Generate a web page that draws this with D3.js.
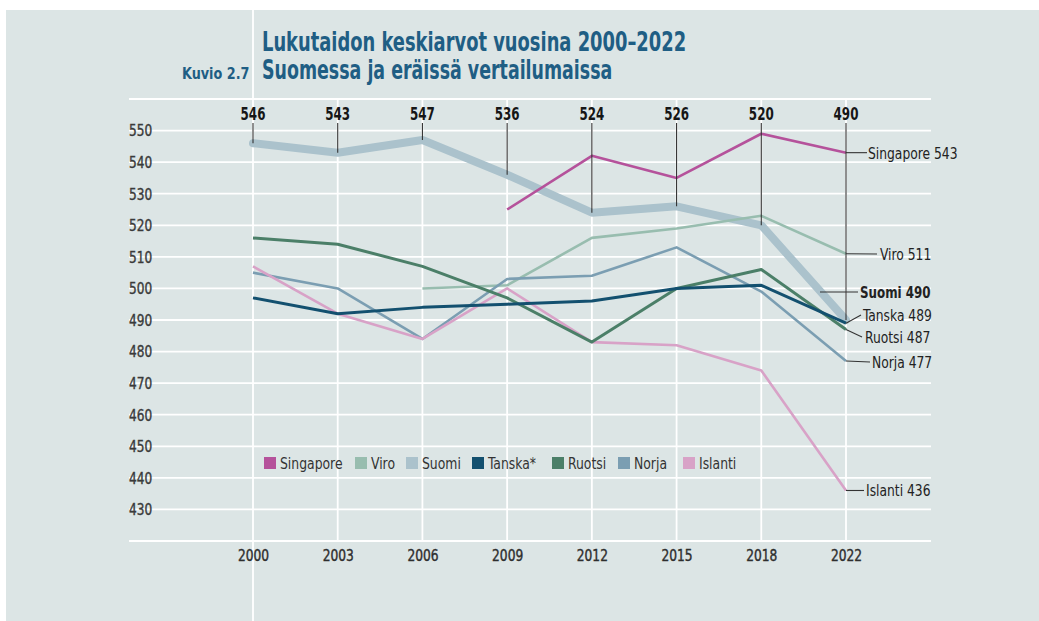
<!DOCTYPE html>
<html>
<head>
<meta charset="utf-8">
<script src="https://cdn.jsdelivr.net/npm/d3@7"></script>
<style>
  html, body { margin: 0; padding: 0; background: #ffffff; }
  svg { display: block; }
  text { font-family: "Liberation Sans Narrow", "DejaVu Sans Condensed", "Roboto Condensed", "Noto Sans", sans-serif; }
</style>
</head>
<body>
<svg id="chart" width="1039" height="621"></svg>
<script>
// ---- data ----
const years = [2000, 2003, 2006, 2009, 2012, 2015, 2018, 2022];
const yTicks = [430, 440, 450, 460, 470, 480, 490, 500, 510, 520, 530, 540, 550];
const seriesNames = ["Singapore", "Viro", "Suomi", "Tanska*", "Ruotsi", "Norja", "Islanti"];
const singapore = [null, null, null, 525, 542, 535, 549, 543];
const viro      = [null, null, 500, 501, 516, 519, 523, 511];
const suomi     = [546, 543, 547, 536, 524, 526, 520, 490];
const tanska    = [497, 492, 494, 495, 496, 500, 501, 489];
const ruotsi    = [516, 514, 507, 497, 483, 500, 506, 487];
const norja     = [505, 500, 484, 503, 504, 513, 499, 477];
const islanti   = [507, 492, 484, 500, 483, 482, 474, 436];
const endLabels = ["Singapore", "Viro", "Suomi", "Tanska", "Ruotsi", "Norja", "Islanti"];

// ---- styles ----
const colors = ["#b5529b", "#98bdaf", "#abc2cc", "#13506f", "#4b7f68", "#7b9eb2", "#d8a2c7"];
const widths = [2.6, 2.6, 8, 3, 3, 2.6, 2.6];
const allValues = [singapore, viro, suomi, tanska, ruotsi, norja, islanti];

// condense text horizontally around its anchor x
function squeeze(sel, s) {
  sel.each(function () {
    const t = d3.select(this);
    const x0 = +t.attr("x") || 0;
    t.attr("transform", `translate(${x0},0) scale(${s},1) translate(${-x0},0)`);
  });
}

const svg = d3.select("#chart");
const W = 1039, H = 621;

// background panel
svg.append("rect").attr("x", 6).attr("y", 10).attr("width", W - 6).attr("height", H - 10).attr("fill", "#dce5e5");

const x = d3.scalePoint().domain(years).range([253, 846]);
const y = d3.scaleLinear().domain([420, 560]).range([541, 99]);

// grid
const grid = svg.append("g");
grid.selectAll("line.h").data(d3.range(420, 561, 10)).join("line")
  .attr("class", "h")
  .attr("x1", 129).attr("x2", 931)
  .attr("y1", d => y(d)).attr("y2", d => y(d))
  .attr("stroke", "#ffffff").attr("stroke-width", 1.8);
grid.selectAll("line.v").data(years).join("line")
  .attr("class", "v")
  .attr("x1", d => x(d)).attr("x2", d => x(d))
  .attr("y1", d => d === 2000 ? 10 : y(560)).attr("y2", d => d === 2000 ? H : y(420))
  .attr("stroke", "#ffffff").attr("stroke-width", 1.8);

// y axis labels
const yAxis = d3.axisLeft(y).tickValues(yTicks).tickSize(0).tickPadding(0);
const gy = svg.append("g").attr("transform", "translate(129,0)").call(yAxis);
gy.attr("font-family", null);
gy.select(".domain").remove();
gy.selectAll("text").attr("text-anchor", "start").attr("font-size", 15).attr("fill", "#3a3a3a")
  .attr("stroke", "#3a3a3a").attr("stroke-width", 0.35).attr("dy", "0.36em").attr("x", 0);
squeeze(gy.selectAll("text"), 0.9);

// x axis labels
const xAxis = d3.axisBottom(x).tickSize(0).tickPadding(0);
const gx = svg.append("g").attr("transform", "translate(0,547)").call(xAxis);
gx.attr("font-family", null);
gx.select(".domain").remove();
gx.selectAll("text").attr("font-size", 16).attr("fill", "#2e2e2e").attr("stroke", "#2e2e2e").attr("stroke-width", 0.4)
  .attr("font-weight", "normal").attr("dy", "0.85em").attr("x", 0);
squeeze(gx.selectAll("text"), 0.85);

// lines
const line = d3.line().defined(d => d.v != null).x(d => x(d.year)).y(d => y(d.v));
const order = [2, 1, 5, 6, 4, 3, 0];
order.forEach(i => {
  const pts = years.map((yr, k) => ({ year: yr, v: allValues[i][k] }));
  svg.append("path").datum(pts)
    .attr("d", line)
    .attr("fill", "none")
    .attr("stroke", colors[i])
    .attr("stroke-width", widths[i])
    .attr("stroke-linejoin", "round")
    .attr("stroke-linecap", i === 2 ? "round" : "butt");
});

// top value labels for Suomi with ticks
const topG = svg.append("g");
topG.selectAll("line").data(years).join("line")
  .attr("x1", d => x(d)).attr("x2", d => x(d))
  .attr("y1", 123).attr("y2", (d, k) => y(suomi[k]))
  .attr("stroke", "#333").attr("stroke-width", 1.1);
topG.selectAll("text").data(years).join("text")
  .attr("x", d => x(d)).attr("y", 120)
  .attr("text-anchor", "middle").attr("font-size", 17).attr("font-weight", "bold").attr("fill", "#161616")
  .text((d, k) => suomi[k]);
squeeze(topG.selectAll("text"), 0.78);

// end labels (layout)
const last = years.length - 1;
const lx = x(2022);
const labelLayout = [
  { ly: y(singapore[last]), sx: lx, ex: 867, tx: 868, bold: false },
  { ly: 254, sx: lx, ex: 877, tx: 880, bold: false },
  { ly: 292, sx: 820, ex: 858, tx: 860, bold: true },
  { ly: 315, sx: lx, ex: 861, tx: 863, bold: false },
  { ly: 337, sx: lx, ex: 862, tx: 865, bold: false },
  { ly: 362, sx: lx, ex: 870, tx: 872, bold: false },
  { ly: y(islanti[last]), sx: lx, ex: 864, tx: 866, bold: false }
];
const endG = svg.append("g");
labelLayout.forEach((L, i) => {
  const v = allValues[i][last];
  const sy = i === 2 ? L.ly : y(v);
  endG.append("line").attr("x1", L.sx).attr("y1", sy).attr("x2", L.ex).attr("y2", L.ly)
    .attr("stroke", "#333").attr("stroke-width", 1.1);
  const t = endG.append("text").attr("x", L.tx).attr("y", L.ly).attr("dy", "0.36em")
    .attr("font-size", 16.5).attr("fill", "#222").attr("font-weight", L.bold ? "bold" : "normal")
    .text(endLabels[i] + " " + v);
  squeeze(t, L.bold ? 0.8 : 0.83);
});

// legend
const legendX = [264, 355, 406, 472, 552, 618, 683];
const leg = svg.append("g");
seriesNames.forEach((n, i) => {
  leg.append("rect").attr("x", legendX[i]).attr("y", 457).attr("width", 12).attr("height", 12).attr("fill", colors[i]);
  leg.append("text").attr("x", legendX[i] + 16).attr("y", 463).attr("dy", "0.36em")
    .attr("font-size", 15.5).attr("fill", "#333").text(n);
});
squeeze(leg.selectAll("text"), 0.89);

// title
const titleColor = "#1f5e84";
const t1 = svg.append("text").attr("x", 262).attr("y", 51).attr("font-size", 26).attr("font-weight", "bold").attr("fill", titleColor)
  .text("Lukutaidon keskiarvot vuosina 2000–2022");
const t2 = svg.append("text").attr("x", 262).attr("y", 79).attr("font-size", 26).attr("font-weight", "bold").attr("fill", titleColor)
  .text("Suomessa ja eräissä vertailumaissa");
const t3 = svg.append("text").attr("x", 182).attr("y", 79).attr("font-size", 16).attr("font-weight", "bold").attr("fill", titleColor)
  .text("Kuvio 2.7");
squeeze(t1, 0.765);
squeeze(t2, 0.745);
squeeze(t3, 0.89);
</script>
</body>
</html>
